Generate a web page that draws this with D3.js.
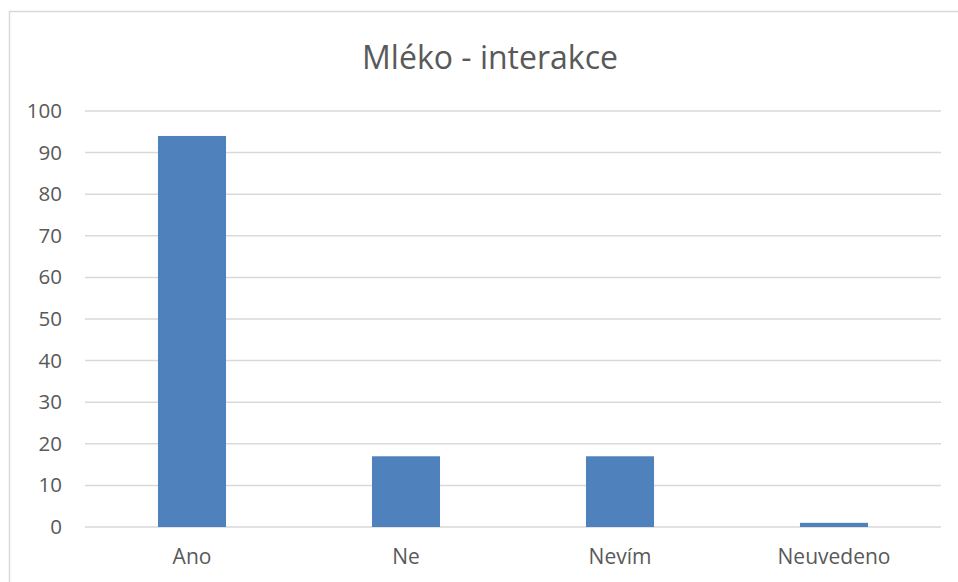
<!DOCTYPE html>
<html><head><meta charset="utf-8">
<script src="https://cdn.jsdelivr.net/npm/d3@7"></script>
<style>body{margin:0;background:#fff}svg{display:block}text{font-family:"Open Sans",sans-serif;fill:#595959}</style>
</head><body><svg id="c" width="958" height="582"></svg>
<script>
const categories = ["Ano","Ne","Nevím","Neuvedeno"];
const values = [94,17,17,1];
const yTicks = [0,10,20,30,40,50,60,70,80,90,100];
const title = "Mléko - interakce";

const svg = d3.select("#c");
svg.append("rect").attr("x",9.5).attr("y",11.5).attr("width",960).attr("height",600)
  .attr("fill","#fff").attr("stroke","#d9d9d9").attr("stroke-width",1.5);

const m = {l:85, r:941, t:111, b:527};
const x = d3.scaleBand().domain(categories).range([m.l,m.r]).padding(0);
const y = d3.scaleLinear().domain([0,100]).range([m.b,m.t]);

svg.append("g").selectAll("line").data(yTicks).join("line")
  .attr("x1",m.l).attr("x2",m.r).attr("y1",d=>y(d)).attr("y2",d=>y(d))
  .attr("stroke","#d9d9d9").attr("stroke-width",1.5);

const yAxis = d3.axisLeft(y).tickValues(yTicks).tickSize(0).tickPadding(0);
const gy = svg.append("g").attr("transform",`translate(62,0)`).call(yAxis);
gy.select(".domain").remove();
gy.selectAll("text").attr("font-size",20.5).attr("fill","#595959").attr("font-family","Open Sans");

const bw = x.bandwidth()*0.318;
svg.append("g").selectAll("rect").data(values).join("rect")
  .attr("x",(d,i)=>x(categories[i])+x.bandwidth()/2-bw/2)
  .attr("width",bw)
  .attr("y",d=>y(d)).attr("height",d=>y(0)-y(d))
  .attr("fill","#4f81bd");

const xAxis = d3.axisBottom(x).tickSize(0).tickPadding(0);
const gx = svg.append("g").attr("transform",`translate(0,549)`).call(xAxis);
gx.select(".domain").remove();
gx.selectAll("text").attr("font-size",21).attr("fill","#595959").attr("font-family","Open Sans").attr("dy","0.71em");

svg.append("text").attr("x",490).attr("y",69).attr("text-anchor","middle")
  .attr("font-size",32).text(title);
</script></body></html>
